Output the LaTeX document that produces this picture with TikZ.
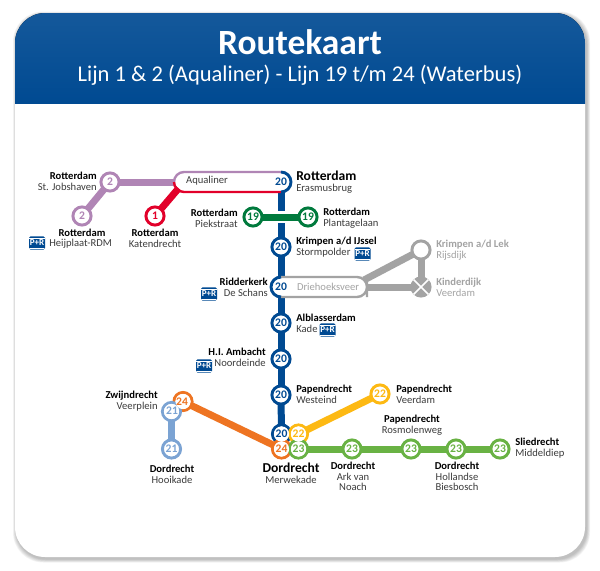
\documentclass[tikz,border=0pt]{standalone}
\usepackage{fontspec}
\setmainfont{Carlito}
\definecolor{rmblue}{HTML}{004A92}
\definecolor{lijn1}{HTML}{E2002A}
\definecolor{lijn2}{HTML}{B085B5}
\definecolor{lijn19}{HTML}{007A3D}
\definecolor{lijn21}{HTML}{7BA3D3}
\definecolor{lijn22}{HTML}{FDB913}
\definecolor{lijn23}{HTML}{69B244}
\definecolor{lijn24}{HTML}{EE7422}
\definecolor{veer}{HTML}{A3A3A3}
\definecolor{tekst}{HTML}{3C3C3C}
\tikzset{
    halte/.style={circle, draw=#1, text=#1, fill=white, line width=2.2pt, minimum size=13.6pt,
        inner sep=0pt, font=\fontsize{8.7}{8.7}\selectfont\bfseries},
    halfhalte/.style={circle, fill=white, text=rmblue, minimum size=15pt, inner sep=0pt, outer sep=0pt,
        font=\fontsize{8.7}{8.7}\selectfont\bfseries},
    binnen/.style={circle, fill=white, text=#1, minimum size=11.4pt, inner sep=0pt, outer sep=0pt,
        font=\fontsize{8.7}{8.7}\selectfont\bfseries},
    cijfer/.style={text=#1, inner sep=0pt, font=\fontsize{8.7}{8.7}\selectfont\bfseries},
    pil/.style={rectangle, fill=white, inner sep=0pt, outer sep=0pt, minimum height=15pt},
    lijn/.style={draw=#1, line width=5.25pt, shorten <=-0.75pt, shorten >=-0.75pt},
    rand/.style={draw=#1, line width=1.8pt, rounded corners=7.5pt},
    naam/.style={inner sep=0pt, text=tekst, font=\fontsize{7.95}{8.1}\selectfont},
    pr/.style={rectangle, fill=rmblue, text=white, rounded corners=1pt, inner sep=0pt, minimum width=12pt,
        minimum height=9.8pt, font=\fontsize{6.8}{6.8}\selectfont\bfseries,
        path picture={
            \draw[white, line width=0.35pt] ([yshift=-1pt]path picture bounding box.north west) -- ([yshift=-1pt]path picture bounding box.north east);
            \draw[white, line width=0.35pt] ([yshift=1pt]path picture bounding box.south west) -- ([yshift=1pt]path picture bounding box.south east);
        }},
}
\newcommand{\groot}[1]{{\fontsize{10.2}{8.1}\selectfont\bfseries\color{black}#1}}
\newcommand{\vet}[1]{{\bfseries\color{black}#1}}
\begin{document}
\begin{tikzpicture}[x=0.75pt, y=-0.75pt]
    \useasboundingbox (0,0) rectangle (600,571);
    % kaart
    \foreach \d in {7,6,5,4,3,2,1}
        \fill[black, opacity=0.04, rounded corners=22.5pt] (15-\d/2+1.5,13-\d/2+2) rectangle (585+\d/2+1.5,557+\d/2+2);
    \fill[white, rounded corners=22.5pt] (15,13) rectangle (585,557);
    \begin{scope}
        \clip[rounded corners=22.5pt] (15,13) rectangle (585,557);
        \fill[top color=rmblue!92!white, bottom color=rmblue] (15,13) rectangle (585,103);
    \end{scope}
    \node (titel) [text=white, font=\fontsize{26.6}{26.6}\selectfont\bfseries] at (300,42) {Routekaart};
    \node (ondertitel) [text=white, font=\fontsize{16.9}{16.9}\selectfont] at (300,75) {Lijn 1 \& 2 (Aqualiner) - Lijn 19 t/m 24 (Waterbus)};

    % haltes
    \node (jobshaven) [halte=lijn2] at (110,182) {2};
    \node (heijplaat) [halte=lijn2] at (82,216) {2};
    \node (katendrecht) [halte=lijn1] at (155,216) {1};
    \node (piekstraat) [halte=lijn19] at (253,217) {19};
    \node (plantagelaan) [halte=lijn19] at (308,217) {19};
    \node (aqua) [pil, minimum width=81pt] at (228,182) {};
    \node (aqualabel) [naam] at (207,181) {Aqualiner};
    \node (erasmus) [halfhalte] at (281,182) {20};
    \node (stormpolder) [halte=rmblue] at (281,247) {20};
    \node (driehoek) [pil, minimum width=64.5pt] at (324,287) {};
    \node (driehoeklabel) [naam, text=veer] at (328,287) {Driehoeksveer};
    \node (schans) [halfhalte] at (281,287) {20};
    \node (kade) [halte=rmblue] at (281,323) {20};
    \node (noordeinde) [halte=rmblue] at (281,359) {20};
    \node (westeind) [halte=rmblue] at (281,395) {20};
    \node (rijsdijk) [halte=veer] at (421,250) {};
    \node (kinderdijk) [halte=veer, fill=veer] at (421,287) {};
    \node (veerplein24) [halte=lijn24] at (183,401.5) {};
    \node (veerplein21) [halte=lijn21] at (171.5,411.5) {};
    \node (hooikade) [halte=lijn21] at (171.5,449) {21};
    \node (merwe20) [halte=rmblue] at (281.5,434) {};
    \node (merwe22) [halte=lijn22] at (298.5,434) {};
    \node (merwe24) [halte=lijn24] at (281.5,449) {};
    \node (merwe23) [halte=lijn23] at (298.5,449) {};
    \node (veerdam) [halte=lijn22] at (380,394) {22};
    \node (ark) [halte=lijn23] at (352,449) {23};
    \node (rosmolen) [halte=lijn23] at (411,449) {23};
    \node (biesbosch) [halte=lijn23] at (456,449) {23};
    \node (middeldiep) [halte=lijn23] at (500,449) {23};

    % binnenkant van de gedeelde haltes
    \node (binnen24) [binnen=lijn24] at (veerplein24) {};
    \node (binnen21) [binnen=lijn21] at (veerplein21) {};
    \node (cijfer24) [cijfer=lijn24] at (182,402) {24};
    \node (cijfer21) [cijfer=lijn21] at (172,411) {21};
    \node (t20) [binnen=rmblue] at (merwe20) {20};
    \node (t22) [binnen=lijn22] at (merwe22) {22};
    \node (t24) [binnen=lijn24] at (merwe24) {24};
    \node (t23) [binnen=lijn23] at (merwe23) {23};

    % lijnen
    \coordinate (aquarood) at (178,189);
    \coordinate (driehoektop) at (364,280);
    \draw[lijn=lijn2] (heijplaat) -- (jobshaven);
    \draw[lijn=lijn2] (jobshaven) -- (aqua.west);
    \draw[lijn=lijn1] (katendrecht) -- (aquarood);
    \draw[lijn=rmblue] (erasmus) -- (stormpolder);
    \draw[draw=white, line width=8.5pt] (piekstraat) -- (plantagelaan);
    \draw[lijn=lijn19] (piekstraat) -- (plantagelaan);
    \draw[lijn=rmblue] (stormpolder) -- (schans);
    \draw[lijn=rmblue] (schans) -- (kade);
    \draw[lijn=rmblue] (kade) -- (noordeinde);
    \draw[lijn=rmblue] (noordeinde) -- (westeind);
    \draw[lijn=rmblue] (westeind) -- (merwe20);
    \draw[lijn=veer, shorten <=0pt] (driehoektop) -- (rijsdijk);
    \draw[lijn=veer, shorten <=0pt] (driehoek.east) -- (kinderdijk);
    \draw[lijn=veer] (rijsdijk) -- (kinderdijk);
    \draw[lijn=lijn21] (veerplein21) -- (hooikade);
    \draw[lijn=lijn24] (veerplein24) -- (merwe24);
    \draw[lijn=lijn22] (merwe22) -- (veerdam);
    \draw[lijn=lijn23] (merwe23) -- (ark);
    \draw[lijn=lijn23] (ark) -- (rosmolen);
    \draw[lijn=lijn23] (rosmolen) -- (biesbosch);
    \draw[lijn=lijn23] (biesbosch) -- (middeldiep);

    % pillen
    \draw[rand=lijn2] (aqua.west) |- (erasmus.north);
    \draw[rand=lijn1] (aqua.west) |- (erasmus.south);
    \draw[draw=rmblue, line width=2.2pt] (erasmus.north) arc[start angle=270, end angle=450, radius=10];
    \draw[rand=veer] (schans.north) -| (driehoek.east) |- (schans.south);
    \draw[draw=rmblue, line width=2.2pt] (schans.north) arc[start angle=270, end angle=90, radius=10];
    \draw[white, line width=1.2pt] (kinderdijk.45) -- (kinderdijk.225);
    \draw[white, line width=1.2pt] (kinderdijk.135) -- (kinderdijk.315);

    % namen
    \node (n1) [naam, anchor=east, align=right] at (97,181.5) {\vet{Rotterdam}\\St. Jobshaven};
    \node (n2) [naam] at (82,233) {\vet{Rotterdam}};
    \node (n3) [naam, anchor=west] at (49,243.5) {Heijplaat-RDM};
    \node (n4) [naam, align=center] at (155,238.5) {\vet{Rotterdam}\\Katendrecht};
    \node (n5) [naam, anchor=east, align=right] at (238,218) {\vet{Rotterdam}\\Piekstraat};
    \node (n6) [naam, anchor=west, align=left] at (296,182) {\groot{Rotterdam}\\Erasmusbrug};
    \node (n7) [naam, anchor=west, align=left] at (323,218) {\vet{Rotterdam}\\Plantagelaan};
    \node (n8) [naam, anchor=west, align=left] at (296,247) {\vet{Krimpen a/d IJssel}\\Stormpolder};
    \node (n9) [naam, anchor=west, align=left, text=veer] at (436,250) {{\bfseries Krimpen a/d Lek}\\Rijsdijk};
    \node (n10) [naam, anchor=west, align=left, text=veer] at (436,287) {{\bfseries Kinderdijk}\\Veerdam};
    \node (n11) [naam, anchor=east, align=right] at (268,287) {\vet{Ridderkerk}\\De Schans};
    \node (n12) [naam, anchor=west, align=left] at (296,323.5) {\vet{Alblasserdam}\\Kade};
    \node (n13) [naam, anchor=east, align=right] at (266,357.5) {\vet{H.I. Ambacht}\\Noordeinde};
    \node (n14) [naam, anchor=west, align=left] at (296,394.5) {\vet{Papendrecht}\\Westeind};
    \node (n15) [naam, anchor=west, align=left] at (396,394.5) {\vet{Papendrecht}\\Veerdam};
    \node (n16) [naam, align=center] at (412,425.5) {\vet{Papendrecht}\\Rosmolenweg};
    \node (n17) [naam, anchor=west, align=left] at (515,448.5) {\vet{Sliedrecht}\\Middeldiep};
    \node (n18) [naam, align=center] at (353,476.5) {\vet{Dordrecht}\\Ark van\\Noach};
    \node (n19) [naam, align=center] at (457,476.5) {\vet{Dordrecht}\\Hollandse\\Biesbosch};
    \node (n20) [naam, align=center] at (291,473.5) {\groot{Dordrecht}\\Merwekade};
    \node (n21) [naam, anchor=east, align=right] at (158,401) {\vet{Zwijndrecht}\\Veerplein};
    \node (n22) [naam, align=center] at (172,474) {\vet{Dordrecht}\\Hooikade};

    % P+R
    \node (pr1) [pr] at (37,243) {P+R};
    \node (pr2) [pr] at (362.5,254) {P+R};
    \node (pr3) [pr] at (209,294) {P+R};
    \node (pr4) [pr] at (327.5,330) {P+R};
    \node (pr5) [pr] at (204,366) {P+R};
\end{tikzpicture}
\end{document}
